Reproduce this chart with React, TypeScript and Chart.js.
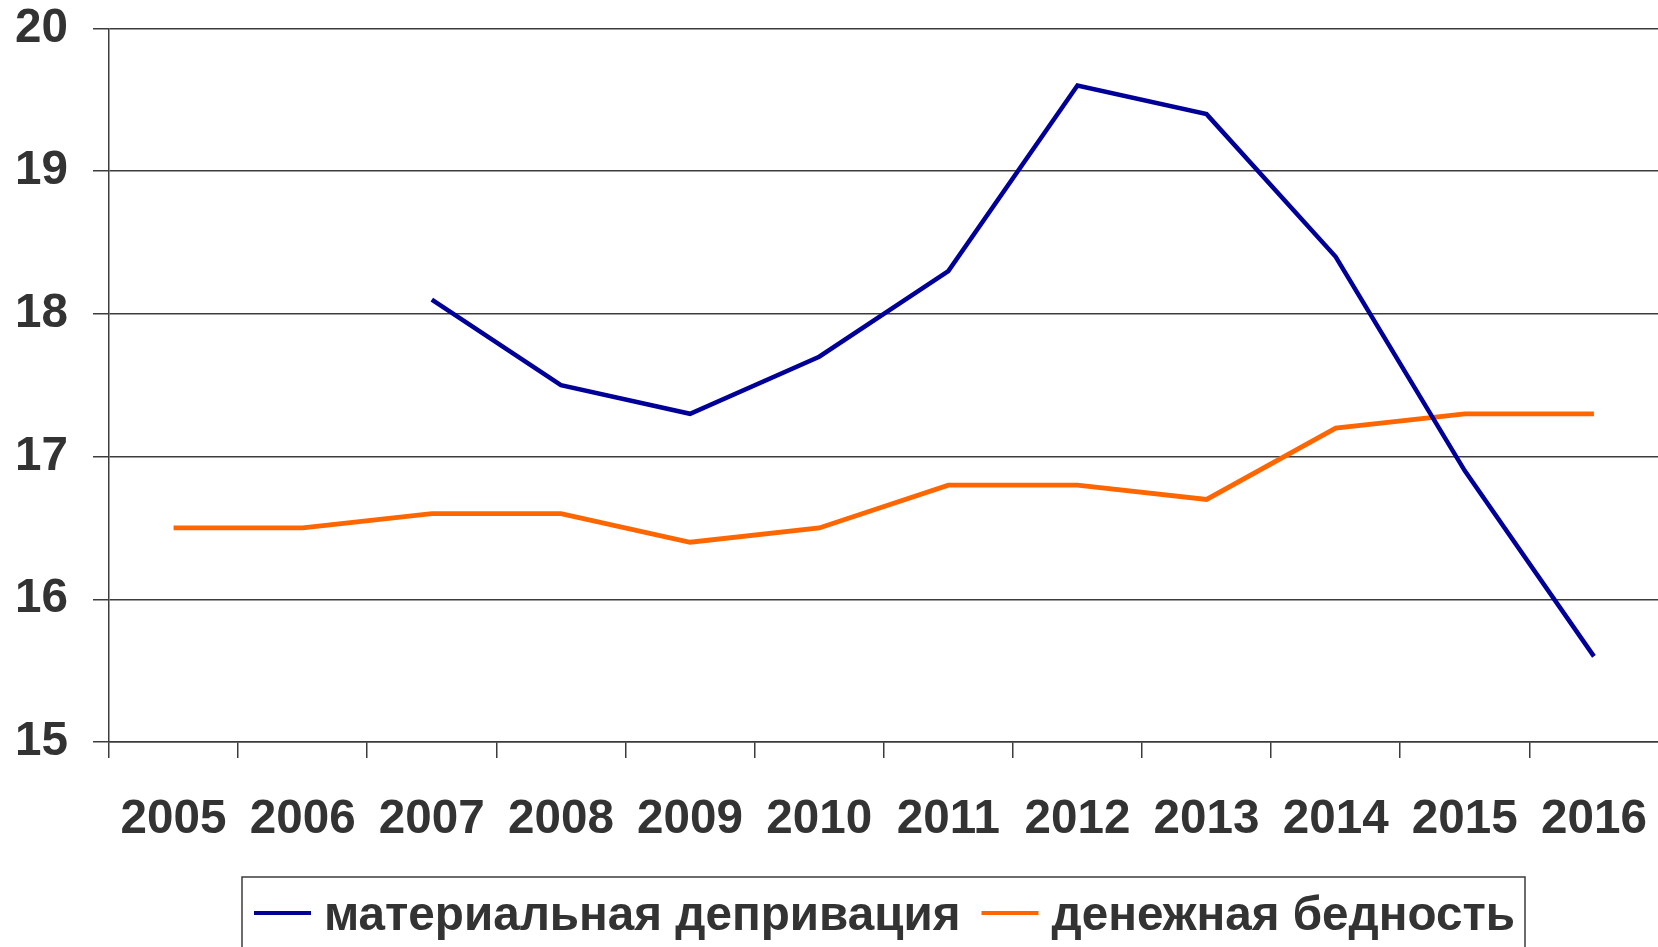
import React, { useEffect, useRef } from "react";
import { Chart, registerables } from "chart.js";

Chart.register(...registerables);

const years = ["2005", "2006", "2007", "2008", "2009", "2010", "2011", "2012", "2013", "2014", "2015", "2016"];
const materialDeprivation = [null, null, 18.1, 17.5, 17.3, 17.7, 18.3, 19.6, 19.4, 18.4, 16.9, 15.6];
const monetaryPoverty = [16.5, 16.5, 16.6, 16.6, 16.4, 16.5, 16.8, 16.8, 16.7, 17.2, 17.3, 17.3];
const seriesNames = ["материальная депривация", "денежная бедность"];
const seriesColors = ["#000099", "#FF6600"];
const yMin = 15;
const yMax = 20;

const FONT = '"Liberation Sans", Arial, sans-serif';
const TEXT = "#333333";
const AXIS = "#3c3c3c";
const FS = 47.6;

const legendPlugin = {
  id: "boxLegend",
  afterDraw(chart: any) {
    const ctx = chart.ctx;
    ctx.save();
    const left = 242;
    const top = 877;
    const right = 1525;
    ctx.strokeStyle = AXIS;
    ctx.lineWidth = 1.5;
    ctx.beginPath();
    ctx.moveTo(left, 990);
    ctx.lineTo(left, top);
    ctx.lineTo(right, top);
    ctx.lineTo(right, 990);
    ctx.stroke();
    ctx.font = `bold ${FS}px ${FONT}`;
    ctx.textBaseline = "middle";
    ctx.fillStyle = TEXT;
    let x = 254;
    const y = 913;
    chart.data.datasets.forEach((ds: any) => {
      ctx.strokeStyle = ds.borderColor;
      ctx.lineWidth = 4;
      ctx.beginPath();
      ctx.moveTo(x, y);
      ctx.lineTo(x + 57, y);
      ctx.stroke();
      x += 70;
      ctx.fillStyle = TEXT;
      ctx.fillText(ds.label, x, y + 4);
      x += ctx.measureText(ds.label).width + 21;
    });
    ctx.restore();
  },
};

export default function App() {
  const ref = useRef<HTMLCanvasElement | null>(null);
  useEffect(() => {
    document.body.style.margin = "0";
    const canvas = ref.current!;
    const chart = new Chart(canvas, {
      type: "line",
      data: {
        labels: years,
        datasets: [
          {
            label: seriesNames[0],
            data: materialDeprivation,
            borderColor: seriesColors[0],
            backgroundColor: seriesColors[0],
            borderWidth: 4.5,
            borderJoinStyle: "miter",
            pointRadius: 0,
            tension: 0,
            spanGaps: false,
          },
          {
            label: seriesNames[1],
            data: monetaryPoverty,
            borderColor: seriesColors[1],
            backgroundColor: seriesColors[1],
            borderWidth: 4.8,
            borderJoinStyle: "miter",
            pointRadius: 0,
            tension: 0,
          },
        ],
      },
      options: {
        responsive: false,
        animation: false,
        devicePixelRatio: 1,
        layout: { padding: { top: 28.5, right: 3, left: 0, bottom: 0 } },
        plugins: {
          legend: { display: false },
          tooltip: { enabled: false },
        },
        scales: {
          x: {
            offset: true,
            grid: {
              offset: true,
              drawOnChartArea: false,
              drawTicks: true,
              tickLength: 16,
              color: AXIS,
              lineWidth: 1.5,
            },
            border: { color: AXIS, width: 1.5 },
            ticks: {
              color: TEXT,
              font: { family: FONT, size: FS, weight: "bold" },
              padding: 33,
              maxRotation: 0,
              autoSkip: false,
            },
            afterFit(scale: any) {
              scale.height = 205;
            },
          },
          y: {
            min: yMin,
            max: yMax,
            grid: {
              color: AXIS,
              lineWidth: 1.5,
              tickLength: 16,
            },
            border: { color: AXIS, width: 1.5 },
            ticks: {
              stepSize: 1,
              color: TEXT,
              font: { family: FONT, size: FS, weight: "bold", lineHeight: 0.02 },
              padding: 25,
            },
            afterFit(scale: any) {
              scale.width = 109;
            },
          },
        },
      },
      plugins: [legendPlugin],
    } as any);
    return () => chart.destroy();
  }, []);
  return (
    <div style={{ position: "fixed", left: 0, top: 0, width: 1658, height: 947, overflow: "hidden", background: "#fff" }}>
      <canvas ref={ref} width={1680} height={947} style={{ display: "block", width: 1680, height: 947 }} />
    </div>
  );
}
